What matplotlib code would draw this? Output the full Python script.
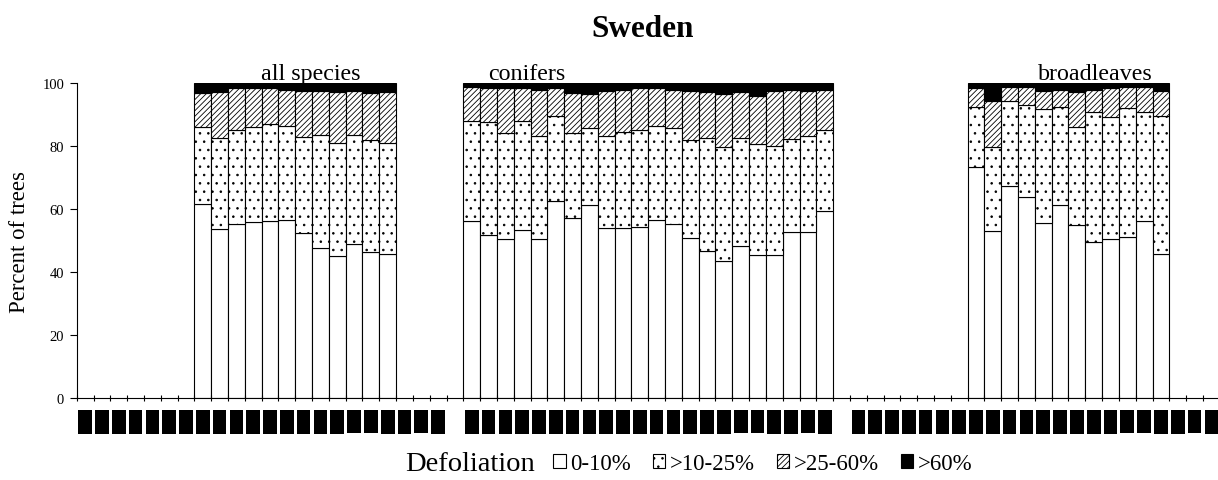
import matplotlib
matplotlib.use("Agg")
import matplotlib.pyplot as plt
from matplotlib.patches import Patch
import numpy as np

plt.rcParams['font.family'] = ['Liberation Serif', 'DejaVu Serif']
plt.rcParams['hatch.linewidth'] = 0.6

# ---- data ----
groups = ["all species", "conifers", "broadleaves"]
years = [str(y) for y in range(1986, 2008)]          # 22 slots per group
first_slot = [7, 0, 7]                                   # first slot with data per group

# cumulative tops (0-10, >10-25, >25-60; >60 fills to 100)
all_d1 = [61.6, 53.7, 55.2, 55.8, 56.2, 56.6, 52.4, 47.5, 45.0, 48.9, 46.2, 45.7]
all_d2 = [85.9, 82.5, 85.2, 86.0, 86.9, 86.4, 82.8, 83.5, 81.0, 83.6, 81.8, 81.0]
all_d3 = [96.7, 97.0, 98.4, 98.4, 98.4, 97.9, 97.6, 97.6, 97.0, 97.6, 96.7, 97.3]

con_d1 = [56.1, 51.9, 50.5, 53.4, 50.5, 62.4, 57.1, 61.3, 53.9, 53.9, 54.2,
          56.5, 55.2, 50.8, 46.6, 43.6, 48.4, 45.4, 45.4, 52.6, 52.6, 59.5]
con_d2 = [87.8, 87.5, 84.0, 87.8, 83.1, 89.4, 84.0, 85.6, 83.1, 84.3, 85.2,
          86.4, 85.6, 81.9, 82.5, 79.6, 82.5, 80.6, 80.1, 82.2, 83.1, 85.2]
con_d3 = [98.8, 98.4, 98.4, 98.4, 97.9, 98.4, 96.7, 96.5, 97.6, 97.9, 98.4,
          98.4, 97.9, 97.6, 97.0, 96.5, 97.0, 95.8, 97.6, 97.9, 97.6, 97.9]

brd_d1 = [73.2, 53.1, 67.4, 63.9, 55.6, 61.3, 54.9, 49.4, 50.5, 51.0, 56.1, 45.7]
brd_d2 = [92.5, 79.6, 94.2, 93.0, 91.7, 92.5, 86.1, 90.9, 89.3, 92.1, 90.9, 89.6]
brd_d3 = [98.4, 94.2, 98.8, 98.8, 97.6, 97.9, 97.0, 97.9, 98.4, 98.8, 98.8, 97.6]

classes = ["0-10%", ">10-25%", ">25-60%", ">60%"]
faces = ["white", "white", "white", "black"]
hatches = [None, "..", "//////", None]

series = [(all_d1, all_d2, all_d3), (con_d1, con_d2, con_d3), (brd_d1, brd_d2, brd_d3)]

W, H = 1218, 481
fig = plt.figure(figsize=(W / 100, H / 100), dpi=100)

slot_px = 16.81
n_slots = 69
ax_left = 76.7
ax = fig.add_axes([ax_left / W, (H - 399) / H, n_slots * slot_px / W, 315 / H])

for g, (d1, d2, d3) in enumerate(series):
    n = len(d1)
    x = np.arange(n) + first_slot[g] + 23 * g
    d1 = np.array(d1); d2 = np.array(d2); d3 = np.array(d3)
    segs = [(np.zeros(n), d1), (d1, d2 - d1), (d2, d3 - d2), (d3, 100 - d3)]
    for k, (bot, hgt) in enumerate(segs):
        ax.bar(x, hgt, bottom=bot, width=1.0, facecolor=faces[k],
               edgecolor="black", hatch=hatches[k], linewidth=0.8)

ax.set_xlim(-0.5, n_slots - 0.5)
ax.set_ylim(0, 100)
ax.spines['top'].set_visible(False)
ax.spines['right'].set_visible(False)
ax.set_yticks(np.arange(0, 101, 20))
ax.tick_params(axis='y', direction='out', length=5, width=0.8, labelsize=10.5, pad=4)

centers = []
labels = []
for g in range(3):
    for i, yr in enumerate(years):
        centers.append(23 * g + i)
        labels.append(yr)
ax.set_xticks(centers)
ax.set_xticklabels(labels, rotation=90, fontsize=7, color="black")
for t in ax.get_xticklabels():
    t.set_bbox(dict(boxstyle="square,pad=0.24", facecolor="black", edgecolor="none"))
ax.tick_params(axis='x', which='major', length=0, pad=10)
ax.set_xticks(np.arange(-0.5, n_slots, 1.0), minor=True)
ax.tick_params(axis='x', which='minor', direction='inout', length=5, width=0.8)

label_x = [13.4, 26.3, 60.1]
for g, name in enumerate(groups):
    ax.text(label_x[g], 101.3, name, ha='center', va='baseline', fontsize=17.3)

fig.text(643 / W, 1 - 37 / H, "Sweden", ha='center', va='baseline',
         fontsize=22.5, fontweight='bold')
fig.text(20 / W, 1 - 242 / H, "Percent of trees", rotation=90,
         ha='center', va='center', fontsize=16.4)
fig.text(405 / W, 1 - 465 / H, "Defoliation", ha='left', va='center', fontsize=20.5)

handles = [Patch(facecolor=faces[k], edgecolor="black", hatch=hatches[k], linewidth=0.8)
           for k in range(4)]
fig.legend(handles, classes, loc='center left', bbox_to_anchor=(553 / W, 1 - 465 / H),
           ncol=4, frameon=False, fontsize=16.5, handlelength=0.55, handleheight=0.55,
           handletextpad=0.2, columnspacing=0.95, borderpad=0, borderaxespad=0)

fig.savefig("out.png", dpi=100)
